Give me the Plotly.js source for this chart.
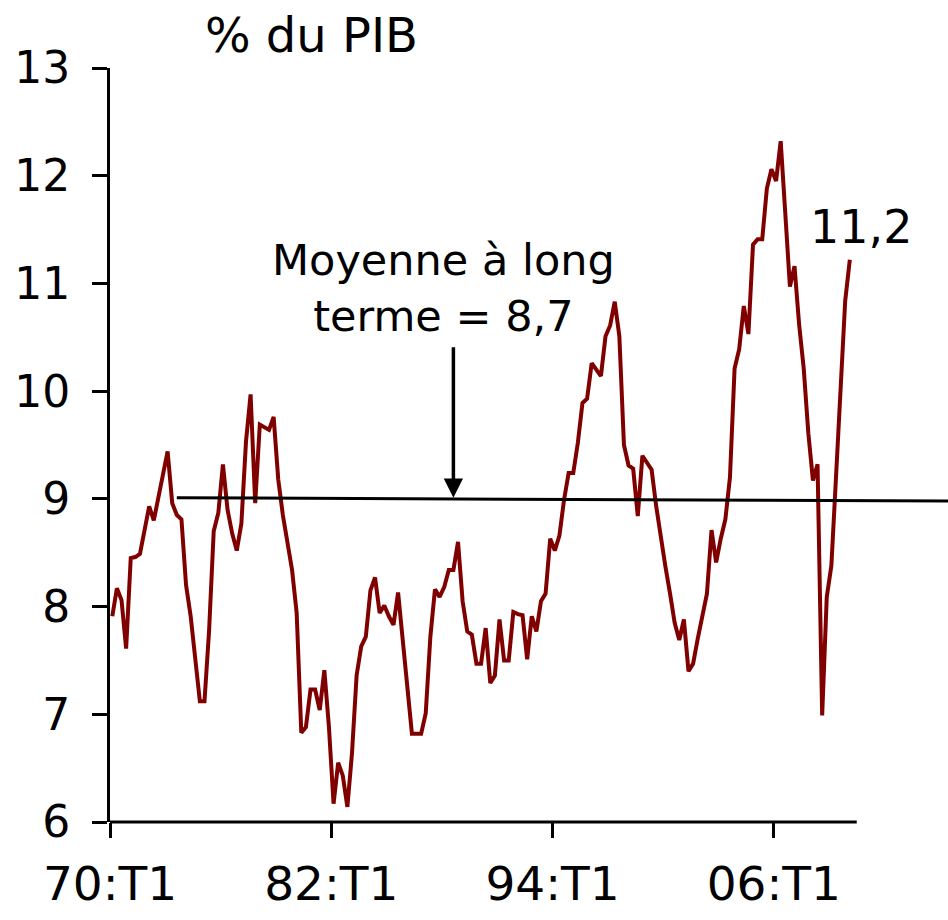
<!DOCTYPE html>
<html><head><meta charset="utf-8">
<script src="https://cdn.plot.ly/plotly-3.0.1.min.js"></script>
<style>html,body{margin:0;padding:0;background:#fff}#chart{width:948px;height:920px}</style>
</head><body><div id="chart"></div>
<script>
// Quarter categories 70:T1 ... 10:T1
const startYear = 1970, endYear = 2010, lastQuarter = 1;
const quarters = [];
for (let y = startYear; y <= endYear; y++) {
  for (let q = 1; q <= 4; q++) {
    if (y === endYear && q > lastQuarter) break;
    quarters.push(String(y % 100).padStart(2, '0') + ':T' + q);
  }
}

// Series (% du PIB), one value per quarter
const ratio = [
  7.91, 8.17, 8.06, 7.61, 8.45, 8.46, 8.49, 8.70, 8.93, 8.80, 9.00, 9.22, 9.44, 8.96, 8.85, 8.81,
  8.20, 7.91, 7.50, 7.12, 7.12, 7.78, 8.70, 8.87, 9.32, 8.90, 8.68, 8.52, 8.77, 9.53, 9.97,
  8.96, 9.69, 9.66, 9.64, 9.76, 9.18, 8.85, 8.62, 8.34, 7.94, 6.83, 6.88, 7.23, 7.23, 7.04, 7.41,
  6.88, 6.17, 6.55, 6.43, 6.14,
  6.64, 7.36, 7.63, 7.72, 8.15, 8.27, 7.94, 8.01, 7.91, 7.83, 8.13, 7.66, 7.24, 6.82, 6.82, 6.82,
  7.01, 7.72, 8.16, 8.09, 8.18, 8.34, 8.34, 8.60,
  8.05, 7.77, 7.74, 7.47, 7.47, 7.80, 7.29, 7.36, 7.88, 7.50, 7.50, 7.95, 7.93, 7.92, 7.51, 7.91,
  7.77, 8.05, 8.12, 8.63, 8.52, 8.66, 8.99, 9.24, 9.24, 9.52, 9.89, 9.93, 10.26, 10.20, 10.14,
  10.51, 10.61,
  10.83, 10.51, 9.50, 9.31, 9.28, 8.84, 9.40, 9.33, 9.27, 8.93, 8.62, 8.37, 8.12, 7.85, 7.69, 7.88,
  7.40, 7.47, 7.70, 7.91, 8.12, 8.71, 8.41, 8.63, 8.81, 9.20, 10.21, 10.39, 10.79, 10.53, 11.36,
  11.41, 11.41, 11.88, 12.06, 11.95, 12.32, 11.65, 10.97, 11.16, 10.62, 10.21, 9.61, 9.17, 9.32,
  6.99, 8.09, 8.38, 9.18, 9.95, 10.84, 11.22
];

const tickLabels = ['70:T1', '82:T1', '94:T1', '06:T1'];
const yTicks = [6, 7, 8, 9, 10, 11, 12, 13];

// Long-term average line (as drawn)
const meanStart = '73:T3';
const meanValues = [9.01, 8.98];
const meanLabel = 'Moyenne à long<br>terme = 8,7';
const arrowAt = '88:T3';
const lastLabel = '11,2';
const unitLabel = '% du PIB';

const xs = quarters.map((_, i) => i);
const xMax = 181.3;
const axisEnd = quarters.length + 0.5;
const FONT = 'DejaVu Sans, Verdana, sans-serif';

const traces = [
  {
    x: xs, y: ratio, type: 'scatter', mode: 'lines',
    line: {color: '#800000', width: 4}, hoverinfo: 'skip', cliponaxis: false
  },
  {
    x: [quarters.indexOf(meanStart), xMax], y: meanValues, type: 'scatter', mode: 'lines',
    line: {color: '#000000', width: 3}, hoverinfo: 'skip', cliponaxis: false
  }
];

const layout = {
  width: 948, height: 920,
  margin: {l: 110, r: 0, t: 68, b: 98},
  paper_bgcolor: '#fff', plot_bgcolor: '#fff',
  showlegend: false,
  font: {family: FONT, color: '#000'},
  xaxis: {
    type: 'linear', range: [-0.5, xMax], showgrid: false, zeroline: false, showline: false,
    tickmode: 'array',
    tickvals: tickLabels.map(t => quarters.indexOf(t) - 0.5),
    ticktext: tickLabels,
    ticks: 'outside', ticklen: 15, tickwidth: 3, tickcolor: '#000',
    tickfont: {family: FONT, size: 47, color: '#000'},
    ticklabelstandoff: 6
  },
  yaxis: {
    range: [6, 13], showgrid: false, zeroline: false,
    showline: true, linewidth: 3, linecolor: '#000',
    tickmode: 'array', tickvals: yTicks, ticktext: yTicks.map(String),
    ticks: 'outside', ticklen: 15, tickwidth: 3, tickcolor: '#000',
    tickfont: {family: FONT, size: 44, color: '#000'},
    ticklabelstandoff: 13
  },
  shapes: [
    {type: 'line', xref: 'x', yref: 'paper', x0: -0.5, x1: axisEnd, y0: 0, y1: 0,
     line: {color: '#000', width: 3}, layer: 'above'}
  ],
  annotations: [
    {xref: 'paper', yref: 'paper', x: 0.241, y: 1.044, text: unitLabel, showarrow: false,
     xanchor: 'center', yanchor: 'middle', font: {family: FONT, size: 48, color: '#000'}},
    {xref: 'x', yref: 'y', x: 71.8, y: 10.96, text: meanLabel, showarrow: false,
     xanchor: 'center', yanchor: 'middle', align: 'center',
     font: {family: FONT, size: 43, color: '#000'}},
    {xref: 'x', yref: 'y', x: quarters.indexOf(arrowAt), y: 9.01, text: '', showarrow: true,
     ax: 0, ay: -152, arrowhead: 2, arrowsize: 1.1, arrowwidth: 3.5, arrowcolor: '#000', standoff: 0},
    {xref: 'x', yref: 'y', x: 162.4, y: 11.52, text: lastLabel, showarrow: false,
     xanchor: 'center', yanchor: 'middle', font: {family: FONT, size: 46, color: '#000'}}
  ]
};

Plotly.newPlot('chart', traces, layout, {displayModeBar: false, staticPlot: true});
</script>
</body></html>
